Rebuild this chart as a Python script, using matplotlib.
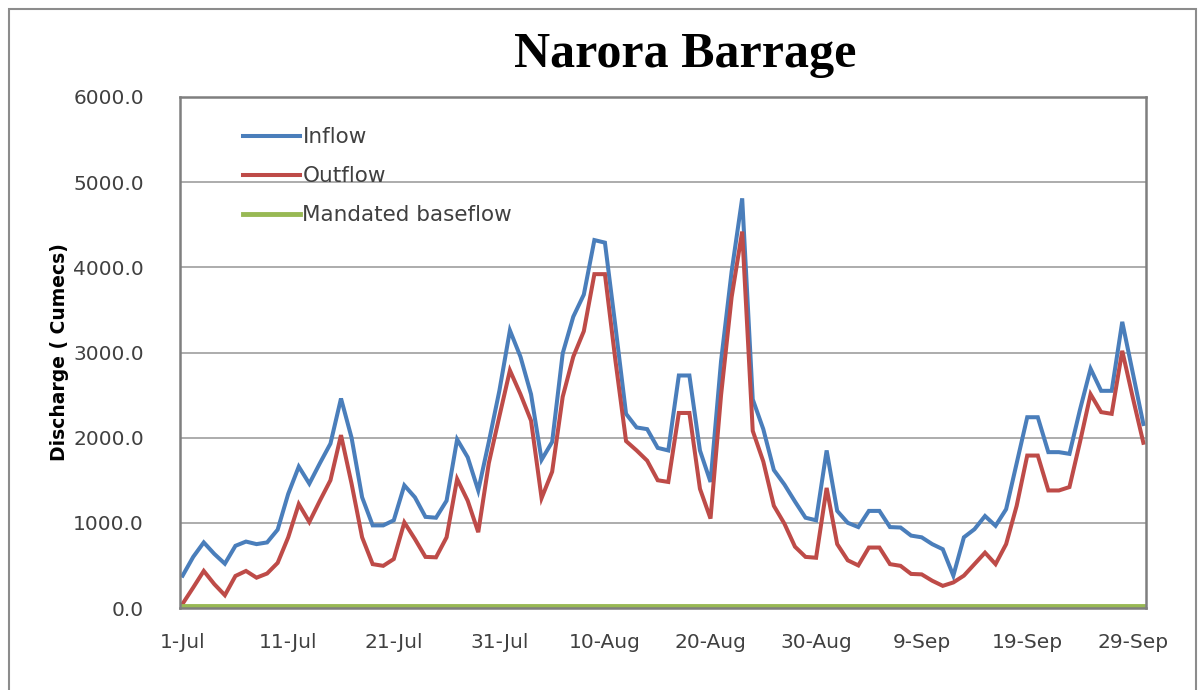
import numpy as np
import pandas as pd
import matplotlib
matplotlib.use('Agg')
import matplotlib.pyplot as plt
from matplotlib.patches import Rectangle

# daily discharge, 1-Jul to 30-Sep (cumecs)
inflow = [380, 600, 770, 635, 520, 730, 780, 750, 770, 920,
          1340, 1660, 1460, 1700, 1930, 2460, 2000, 1300, 970, 970,
          1030, 1440, 1300, 1070, 1060, 1260, 1980, 1770, 1380, 1950,
          2550, 3260, 2950, 2510, 1740, 1950, 2990, 3420, 3680, 4320,
          4290, 3300, 2280, 2120, 2100, 1880, 1850, 2730, 2730, 1850,
          1480, 2900, 3950, 4810, 2450, 2100, 1620, 1450, 1250, 1060,
          1030, 1850, 1140, 1000, 950, 1140, 1140, 950, 945, 850,
          830, 750, 690, 380, 830, 925, 1080, 965, 1160, 1700,
          2240, 2240, 1830, 1830, 1810, 2330, 2810, 2550, 2550, 3360,
          2760, 2160]
outflow = [50, 240, 435, 280, 150, 376, 435, 356, 405, 530,
           830, 1220, 1010, 1260, 1500, 2030, 1460, 830, 515, 495,
           575, 1005, 810, 600, 595, 830, 1515, 1260, 890, 1700,
           2250, 2790, 2510, 2200, 1290, 1600, 2480, 2950, 3250, 3920,
           3920, 2900, 1960, 1850, 1730, 1500, 1480, 2290, 2290, 1400,
           1050, 2500, 3650, 4420, 2080, 1720, 1200, 990, 720, 600,
           590, 1410, 750, 560, 500, 710, 710, 515, 495, 400,
           395, 320, 260, 300, 380, 515, 650, 515, 750, 1200,
           1790, 1790, 1380, 1380, 1420, 1950, 2510, 2300, 2280, 3020,
           2470, 1940]
baseflow = 20.0
start_date = '2013-07-01'

blue = '#4A7EBB'
red = '#BE4B48'
green = '#98B954'

dates = pd.date_range(start_date, periods=len(inflow), freq='D')

fig = plt.figure(figsize=(12.01, 6.9), dpi=100)
ax = fig.add_axes([180/1201, 1 - 608/690, (1146-180)/1201, (608-97)/690])

ax.plot(dates, inflow, color=blue, lw=2.9, label='Inflow', solid_joinstyle='miter')
ax.plot(dates, outflow, color=red, lw=2.9, label='Outflow', solid_joinstyle='miter')
ax.plot(dates, np.full(len(dates), baseflow), color=green, lw=3.5, label='Mandated baseflow')

ax.set_ylim(0, 6000)
ax.set_yticks(np.arange(0, 6001, 1000))
ax.set_yticklabels(['%.1f' % v for v in np.arange(0, 6001, 1000)])
ax.set_xlim(dates[0] - pd.Timedelta(hours=6), dates[-1] + pd.Timedelta(hours=6))
tick_dates = dates[::10]
ax.set_xticks(tick_dates)
ax.set_xticklabels(['%d-%s' % (d.day, d.strftime('%b')) for d in tick_dates])

ax.grid(axis='y', color='#A6A6A6', lw=1.3)
ax.set_axisbelow(True)
for s in ax.spines.values():
    s.set_color('#7F7F7F')
    s.set_linewidth(1.8)
ax.tick_params(axis='both', length=0, labelsize=14.5, colors='#404040')
ax.tick_params(axis='y', pad=26)
ax.tick_params(axis='x', pad=18)

ax.set_ylabel('Discharge ( Cumecs)', fontsize=13.5, fontweight='bold')
ax.yaxis.set_label_coords(-0.115, 0.5)

fig.text(685/1201, 1 - 55/690, 'Narora Barrage', ha='center', va='center',
         fontsize=36, fontweight='bold', family='Liberation Serif')

leg = ax.legend(loc='upper left', bbox_to_anchor=(0.065, 0.941), frameon=False,
                fontsize=15.5, handlelength=2.65, handletextpad=0.12,
                labelspacing=0.89, borderpad=0, borderaxespad=0)
for t in leg.get_texts():
    t.set_color('#404040')

fig.patches.append(Rectangle((9/1201, -0.05), (1196-9)/1201, 1.05 - 9/690,
                             transform=fig.transFigure, fill=False,
                             edgecolor='#8C8C8C', lw=1.5))

fig.savefig('out.png', dpi=100)
